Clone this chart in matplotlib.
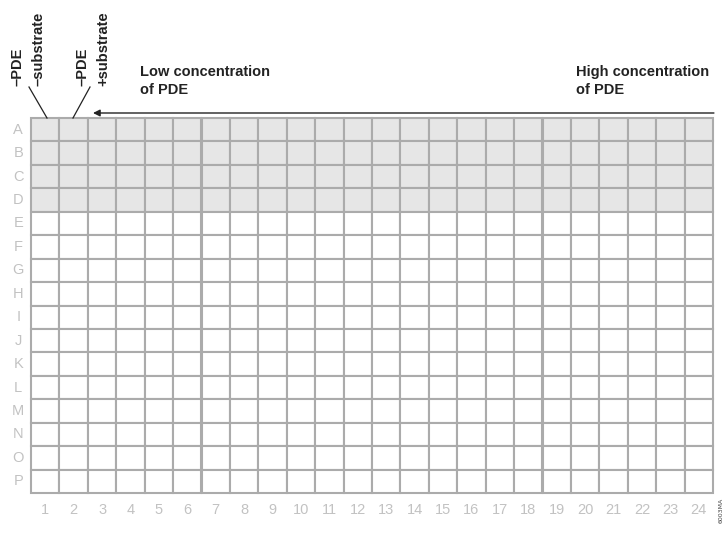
import numpy as np
import matplotlib.pyplot as plt
from matplotlib.patches import Rectangle

rows = list('ABCDEFGHIJKLMNOP')
cols = [str(i) for i in range(1, 25)]
shaded_rows = ['A', 'B', 'C', 'D']

W, H = 728, 537
fig = plt.figure(figsize=(W / 100, H / 100), dpi=100)
ax = fig.add_axes([31 / W, (H - 493) / H, 682 / W, 375 / H])
ax.set_xlim(0, len(cols))
ax.set_ylim(len(rows), 0)
ax.axis('off')

grid_c = '#ababab'
lab_c = '#c2c2c2'
for r, row in enumerate(rows):
    fc = '#e6e6e6' if row in shaded_rows else 'white'
    for c in range(len(cols)):
        ax.add_patch(Rectangle((c, r), 1, 1, facecolor=fc, edgecolor=grid_c,
                               linewidth=1.5, clip_on=False))

for r, row in enumerate(rows):
    ax.text(-0.45, r + 0.5, row, ha='center', va='center', color=lab_c,
            fontsize=10.5, family='Liberation Sans')
for c, col in enumerate(cols):
    ax.text(c + 0.5, 16.72, col, ha='center', va='center', color=lab_c,
            fontsize=10.5, family='Liberation Sans')

bold = dict(family=['Liberation Sans', 'DejaVu Sans'], fontweight='bold',
            fontsize=10.5, color='#222222')

def fx(px):
    return (px - 31) / 28.42

def fy(py):
    return (py - 118) / 23.44

for px, s in [(17, '\u2013PDE'), (39, '\u2013substrate'), (83, '\u2013PDE'), (103, '+substrate')]:
    ax.text(fx(px), fy(86), s, rotation=90, ha='center', va='bottom',
            clip_on=False, **bold)

ax.plot([fx(29), fx(47)], [fy(87), fy(118)], color='#222222', lw=0.9, clip_on=False)
ax.plot([fx(90), fx(73)], [fy(87), fy(118)], color='#222222', lw=0.9, clip_on=False)

ax.text(fx(140), fy(65), 'Low concentration\nof PDE', ha='left', va='top',
        linespacing=1.35, clip_on=False, **bold)
ax.text(fx(576), fy(65), 'High concentration\nof PDE', ha='left', va='top',
        linespacing=1.35, clip_on=False, **bold)

ax.annotate('', xy=(fx(93), fy(113)), xytext=(fx(714), fy(113)),
            arrowprops=dict(arrowstyle='-|>', color='#222222', lw=1.0,
                            mutation_scale=10, shrinkA=0, shrinkB=0),
            annotation_clip=False)

fig.text(721 / W, 1 - 510 / H, '6003MA', rotation=90, ha='center', va='center',
         fontsize=4.5, color='#444444')

plt.savefig('out.png', dpi=100)
